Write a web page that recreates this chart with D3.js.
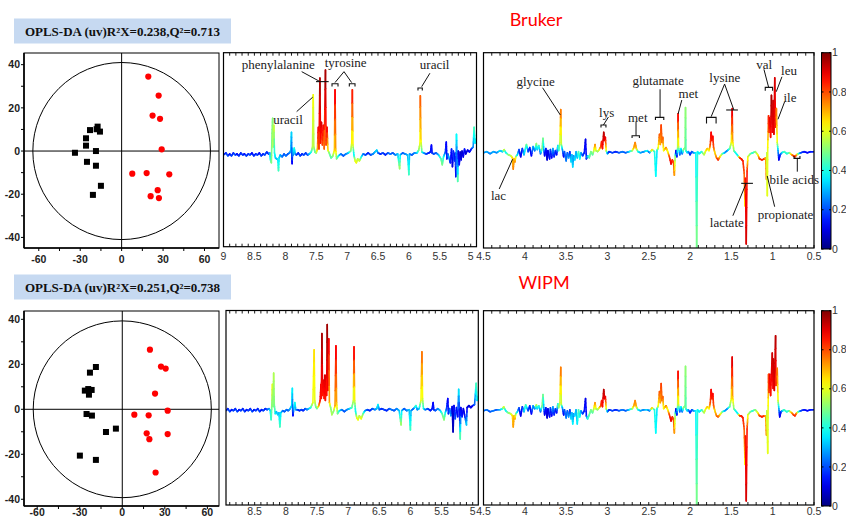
<!DOCTYPE html>
<html><head><meta charset="utf-8">
<script src="https://cdn.jsdelivr.net/npm/d3@7"></script>
<style>html,body{margin:0;padding:0;background:#fff;overflow:hidden}</style>
</head><body>
<svg id="c" width="846" height="518" xmlns="http://www.w3.org/2000/svg"></svg>
<script>
// ---------------- DATA ----------------
const TITLES = ["Bruker", "WIPM"];
const MODEL_LABELS = ["OPLS-DA (uv)R\u00B2X=0.238,Q\u00B2=0.713", "OPLS-DA (uv)R\u00B2X=0.251,Q\u00B2=0.738"];

// score plots [t1, to1]
const BRUKER_CTRL = [[-22.9,9.7],[-17.4,11.3],[-18.1,10.1],[-15.7,9.0],[-25.8,5.9],[-25.8,2.5],[-33.8,-0.8],[-18.6,0],[-25.1,-5.0],[-18.6,-6.8],[-15.0,-16.1],[-20.8,-20.3]];
const BRUKER_CASE = [[19.3,34.5],[26.8,25.7],[22.4,16.4],[27.8,14.9],[29.0,0.8],[7.7,-10.5],[18.1,-10.2],[34.5,-10.8],[26.1,-18.1],[21.0,-20.9],[27.0,-21.8]];
const WIPM_CTRL = [[-18.6,18.8],[-22.8,16.3],[-26.4,8.3],[-24.0,9.0],[-21.6,8.6],[-23.5,6.5],[-25.2,-2.1],[-21.4,-2.8],[-11.5,-10.1],[-4.5,-8.6],[-29.9,-20.6],[-18.6,-22.5]];
const WIPM_CASE = [[19.5,26.5],[27.3,19.0],[30.6,18.1],[23.1,7.0],[32.0,-0.6],[8.5,-2.4],[18.6,-2.7],[17.2,-10.7],[32.0,-11.0],[19.1,-13.3],[23.5,-28.1]];
const ELLIPSE_BRUKER = [64.3, 41.0];
const ELLIPSE_WIPM = [62.8, 39.3];
const SCORE_X_TICKS = [-60,-30,0,30,60];
const SCORE_Y_TICKS = [40,20,0,-20,-40];

// loading spectra rows: [ppm, intensity, |r|]
const BRUKER_AROM = [[9.00,0.00,.20],[8.96,0.02,.15],[8.93,-0.01,.22],[8.90,0.01,.12],[8.87,-0.01,.2],[8.84,0.02,.15],[8.81,0.00,.22],[8.78,0.01,.12],[8.75,-0.01,.18],[8.72,0.02,.15],[8.69,0.00,.2],[8.66,0.01,.12],[8.63,-0.01,.2],[8.60,0.01,.15],[8.57,0.00,.22],[8.54,0.02,.12],[8.51,-0.01,.18],[8.48,0.01,.15],[8.45,0.00,.2],[8.42,0.02,.12],[8.39,-0.01,.2],[8.36,0.01,.15],[8.33,0.00,.2],[8.30,0.03,.18],[8.27,0.01,.15],[8.25,0.02,.3],[8.24,-0.05,.4],[8.225,-0.08,.5],[8.215,0.22,.5],[8.205,0.37,.5],[8.195,0.08,.55],[8.185,0.30,.58],[8.175,0.02,.4],[8.16,-0.03,.35],[8.14,-0.04,.3],[8.12,-0.05,.35],[8.11,-0.16,.45],[8.10,-0.03,.35],[8.08,0.00,.3],[8.05,-0.02,.25],[8.02,0.01,.2],[7.99,-0.01,.25],[7.96,0.01,.2],[7.93,0.02,.25],[7.91,0.05,.3],[7.90,0.23,.35],[7.895,0.02,.2],[7.89,-0.09,.1],[7.88,0.06,.3],[7.87,0.00,.25],[7.855,0.07,.4],[7.84,0.01,.3],[7.82,0.00,.2],[7.79,0.02,.15],[7.76,-0.01,.2],[7.73,0.01,.15],[7.70,0.00,.2],[7.67,0.02,.18],[7.64,0.00,.2],[7.61,0.01,.3],[7.58,0.03,.4],[7.56,0.08,.55],[7.548,0.61,.62],[7.538,0.08,.55],[7.52,0.03,.45],[7.50,0.02,.5],[7.48,0.06,.7],[7.465,0.28,.9],[7.455,0.06,.8],[7.44,0.78,.97],[7.43,0.12,.85],[7.415,0.33,.92],[7.40,0.10,.8],[7.385,0.30,.9],[7.37,0.06,.75],[7.35,0.86,.98],[7.34,0.10,.8],[7.325,0.28,.9],[7.31,0.05,.65],[7.29,0.02,.5],[7.26,-0.03,.45],[7.23,-0.01,.5],[7.205,0.05,.65],[7.195,0.66,.9],[7.185,0.06,.7],[7.17,-0.04,.5],[7.14,-0.01,.4],[7.10,0.01,.25],[7.06,-0.01,.2],[7.02,0.01,.25],[6.98,0.02,.3],[6.94,0.04,.5],[6.925,0.12,.6],[6.915,0.66,.88],[6.905,0.10,.6],[6.89,0.00,.35],[6.87,-0.06,.6],[6.85,-0.08,.62],[6.83,-0.04,.55],[6.80,-0.06,.6],[6.77,-0.02,.4],[6.74,0.01,.25],[6.70,0.00,.2],[6.66,0.02,.15],[6.62,0.00,.2],[6.58,0.01,.25],[6.55,0.03,.3],[6.52,0.05,.35],[6.50,0.02,.25],[6.46,0.01,.15],[6.42,0.02,.2],[6.38,0.00,.15],[6.34,0.02,.2],[6.30,0.01,.25],[6.26,0.02,.2],[6.22,0.00,.25],[6.18,0.01,.3],[6.15,-0.14,.55],[6.14,0.00,.35],[6.10,0.02,.2],[6.06,0.01,.25],[6.02,0.00,.3],[6.00,-0.20,.45],[5.99,0.01,.3],[5.95,0.00,.2],[5.91,0.02,.25],[5.87,0.02,.3],[5.84,0.05,.5],[5.82,0.12,.6],[5.815,0.60,.8],[5.805,0.15,.65],[5.79,0.03,.45],[5.76,0.02,.3],[5.72,0.01,.2],[5.68,0.02,.15],[5.65,0.03,.15],[5.635,0.10,.12],[5.625,0.02,.15],[5.60,0.01,.2],[5.56,0.02,.2],[5.52,0.00,.3],[5.48,-0.04,.45],[5.46,-0.10,.5],[5.44,-0.02,.4],[5.41,0.03,.2],[5.395,0.13,.12],[5.385,-0.04,.15],[5.37,0.01,.2],[5.35,-0.03,.3],[5.33,-0.08,.15],[5.31,0.06,.15],[5.295,-0.12,.08],[5.28,0.04,.15],[5.265,-0.06,.2],[5.25,0.02,.12],[5.24,-0.22,.1],[5.23,0.21,.4],[5.22,-0.05,.2],[5.21,-0.27,.5],[5.20,0.04,.1],[5.185,-0.10,.15],[5.17,0.03,.08],[5.155,-0.05,.1],[5.14,0.04,.08],[5.12,-0.02,.1],[5.10,0.06,.15],[5.08,0.01,.08],[5.05,0.05,.1],[5.02,0.03,.12],[4.99,0.06,.15],[4.96,0.08,.25],[4.945,0.28,.45],[4.93,0.12,.35],[4.91,0.16,.4],[4.906,0.12,.35]];

const BRUKER_ALIPH = [[4.50,0.00,.25],[4.46,0.01,.3],[4.42,-0.01,.25],[4.38,0.01,.3],[4.34,0.00,.25],[4.30,0.02,.35],[4.27,0.01,.3],[4.25,0.03,.6],[4.23,0.00,.35],[4.20,-0.02,.5],[4.17,-0.03,.55],[4.15,-0.05,.65],[4.14,-0.16,.75],[4.13,-0.06,.7],[4.12,-0.09,.75],[4.11,-0.04,.6],[4.09,-0.02,.35],[4.07,0.03,.2],[4.05,-0.04,.1],[4.03,0.04,.15],[4.01,-0.02,.3],[3.99,0.05,.4],[3.98,0.08,.5],[3.96,0.01,.2],[3.94,0.05,.15],[3.92,-0.03,.1],[3.90,0.06,.3],[3.88,0.02,.2],[3.86,0.09,.55],[3.85,0.03,.3],[3.83,0.07,.45],[3.81,-0.01,.2],[3.79,0.04,.5],[3.78,0.14,.5],[3.77,0.03,.3],[3.76,-0.03,.1],[3.745,0.04,.15],[3.73,-0.07,.08],[3.72,0.02,.1],[3.70,-0.06,.12],[3.69,0.03,.2],[3.675,-0.05,.1],[3.66,0.04,.3],[3.645,-0.04,.15],[3.63,0.02,.2],[3.615,-0.02,.1],[3.60,0.07,.35],[3.59,0.02,.4],[3.575,0.10,.55],[3.565,0.42,.78],[3.558,0.08,.55],[3.545,0.03,.3],[3.53,-0.04,.1],[3.52,0.01,.2],[3.50,-0.08,.25],[3.485,0.00,.2],[3.47,-0.05,.3],[3.455,0.01,.15],[3.44,-0.09,.35],[3.43,-0.02,.3],[3.42,-0.14,.35],[3.41,-0.03,.25],[3.395,-0.07,.35],[3.38,0.01,.3],[3.365,-0.05,.3],[3.35,0.01,.45],[3.335,-0.06,.4],[3.32,0.00,.3],[3.30,-0.03,.2],[3.28,0.00,.15],[3.265,0.13,.1],[3.255,-0.06,.15],[3.24,-0.03,.3],[3.22,-0.05,.45],[3.20,0.01,.5],[3.18,-0.02,.45],[3.165,0.02,.55],[3.15,0.08,.75],[3.14,0.02,.6],[3.12,0.01,.5],[3.10,0.03,.6],[3.08,0.06,.8],[3.07,0.11,.85],[3.06,0.04,.85],[3.045,0.20,.95],[3.035,0.12,.9],[3.025,0.15,.92],[3.015,0.02,.6],[3.00,-0.01,.3],[2.98,0.01,.15],[2.94,0.00,.2],[2.90,0.01,.15],[2.86,0.00,.2],[2.82,0.01,.25],[2.78,0.00,.2],[2.74,0.01,.3],[2.70,0.02,.5],[2.68,0.05,.7],[2.665,0.10,.75],[2.65,0.04,.7],[2.63,0.01,.4],[2.60,0.00,.3],[2.56,0.01,.25],[2.52,0.02,.4],[2.49,0.00,.2],[2.46,0.03,.7],[2.43,0.01,.4],[2.415,-0.23,.38],[2.40,0.02,.35],[2.385,0.05,.6],[2.37,0.18,.8],[2.36,0.08,.7],[2.35,0.27,.82],[2.34,0.10,.75],[2.33,0.15,.8],[2.32,0.02,.6],[2.30,0.04,.7],[2.29,0.05,.75],[2.27,0.01,.6],[2.25,-0.04,.8],[2.23,-0.11,.9],[2.215,-0.07,.85],[2.20,-0.10,.8],[2.19,-0.22,.75],[2.18,-0.03,.5],[2.17,0.02,.1],[2.16,-0.04,.1],[2.15,0.05,.5],[2.145,0.38,.9],[2.14,0.06,.6],[2.125,-0.02,.2],[2.11,0.04,.4],[2.095,-0.01,.2],[2.08,0.03,.5],[2.06,0.05,.5],[2.055,0.44,.52],[2.05,0.02,.45],[2.035,0.00,.35],[2.02,0.01,.3],[2.00,-0.02,.15],[1.98,0.01,.2],[1.96,0.00,.25],[1.93,0.00,.35],[1.92,-0.95,.5],[1.91,0.01,.4],[1.89,-0.01,.35],[1.86,0.01,.4],[1.83,-0.02,.55],[1.81,0.02,.6],[1.79,0.04,.7],[1.77,0.02,.6],[1.755,0.08,.8],[1.745,0.20,.88],[1.735,0.12,.85],[1.725,0.16,.88],[1.715,0.05,.8],[1.70,0.00,.65],[1.68,-0.05,.75],[1.66,-0.07,.85],[1.64,-0.04,.7],[1.61,-0.01,.5],[1.58,0.00,.3],[1.55,0.02,.25],[1.52,0.04,.45],[1.50,0.10,.6],[1.49,0.43,.92],[1.485,0.12,.7],[1.47,0.02,.5],[1.45,0.00,.4],[1.42,-0.03,.35],[1.40,-0.05,.8],[1.38,-0.06,.85],[1.36,-0.08,.85],[1.345,-0.20,.8],[1.335,-0.52,.62],[1.33,-0.25,.85],[1.32,-0.89,.92],[1.31,-0.18,.85],[1.30,-0.04,.6],[1.27,-0.01,.5],[1.24,0.00,.4],[1.21,0.01,.5],[1.18,-0.02,.6],[1.16,-0.06,.8],[1.13,-0.07,.85],[1.10,-0.06,.82],[1.085,-0.05,.7],[1.075,-0.26,.75],[1.07,0.00,.55],[1.065,-0.42,.6],[1.06,0.05,.6],[1.05,0.36,.85],[1.045,0.20,.8],[1.035,0.34,.9],[1.025,0.15,.85],[1.015,0.56,.97],[1.005,0.20,.88],[0.995,0.51,.93],[0.985,0.18,.9],[0.975,0.73,.92],[0.965,0.25,.85],[0.955,0.43,.78],[0.945,0.10,.6],[0.935,0.02,.3],[0.925,-0.07,.1],[0.91,-0.02,.15],[0.89,0.00,.3],[0.86,0.01,.45],[0.83,-0.01,.4],[0.80,0.00,.45],[0.77,-0.02,.7],[0.75,-0.03,.8],[0.73,-0.04,.85],[0.71,-0.02,.75],[0.69,-0.01,.5],[0.66,0.00,.2],[0.62,0.01,.15],[0.58,0.00,.12],[0.54,0.01,.15],[0.50,0.01,.15]];

const WIPM_AROM = [[8.96,0.00,.2],[8.93,0.02,.15],[8.90,-0.01,.22],[8.87,0.01,.12],[8.84,0.00,.2],[8.81,0.02,.15],[8.78,-0.01,.22],[8.75,0.01,.12],[8.72,0.00,.2],[8.69,0.02,.15],[8.66,-0.01,.2],[8.63,0.01,.12],[8.60,0.00,.2],[8.57,0.02,.15],[8.54,-0.01,.22],[8.51,0.01,.12],[8.48,0.00,.2],[8.45,0.02,.15],[8.42,-0.01,.2],[8.39,0.01,.12],[8.36,0.00,.2],[8.33,0.02,.15],[8.30,0.01,.2],[8.27,0.02,.25],[8.25,0.00,.35],[8.235,-0.09,.42],[8.225,0.05,.5],[8.215,0.26,.62],[8.205,0.04,.5],[8.195,0.37,.55],[8.185,0.06,.5],[8.17,-0.03,.4],[8.15,-0.01,.3],[8.13,-0.04,.35],[8.11,-0.02,.3],[8.095,-0.16,.45],[8.08,-0.02,.35],[8.05,0.00,.25],[8.02,-0.01,.2],[7.99,0.01,.25],[7.96,0.00,.2],[7.93,0.02,.3],[7.905,0.05,.35],[7.895,0.22,.38],[7.89,0.00,.2],[7.885,-0.05,.1],[7.87,0.03,.3],[7.855,0.08,.4],[7.84,0.01,.3],[7.81,0.01,.2],[7.78,0.00,.15],[7.75,0.01,.2],[7.72,0.00,.15],[7.69,0.02,.2],[7.66,0.01,.25],[7.63,0.02,.3],[7.60,0.03,.4],[7.565,0.08,.6],[7.545,0.60,.66],[7.535,0.10,.6],[7.52,0.04,.5],[7.50,0.02,.45],[7.47,0.05,.7],[7.45,0.10,.85],[7.435,0.26,.9],[7.43,0.12,.85],[7.42,0.76,.97],[7.41,0.15,.85],[7.395,0.30,.9],[7.385,0.12,.85],[7.375,0.35,.92],[7.365,0.10,.85],[7.355,0.35,.92],[7.345,0.15,.85],[7.335,0.85,.98],[7.325,0.20,.88],[7.31,0.71,.9],[7.30,0.08,.7],[7.28,0.03,.5],[7.26,-0.04,.55],[7.23,0.00,.5],[7.21,0.05,.7],[7.195,0.64,.9],[7.185,0.08,.7],[7.17,-0.03,.5],[7.14,0.00,.4],[7.10,0.01,.25],[7.06,-0.01,.2],[7.02,0.01,.25],[6.98,0.02,.3],[6.94,0.03,.45],[6.915,0.10,.55],[6.905,0.63,.9],[6.895,0.10,.6],[6.88,-0.01,.35],[6.86,-0.07,.6],[6.84,-0.09,.62],[6.82,-0.05,.55],[6.79,-0.08,.62],[6.76,-0.03,.5],[6.73,0.00,.3],[6.69,0.01,.2],[6.65,0.00,.15],[6.61,0.02,.2],[6.57,0.01,.25],[6.54,0.02,.3],[6.52,0.06,.38],[6.50,0.01,.25],[6.46,0.02,.15],[6.42,0.01,.2],[6.38,0.00,.15],[6.34,0.02,.2],[6.30,0.01,.25],[6.26,0.00,.2],[6.22,0.02,.25],[6.18,0.00,.3],[6.15,-0.14,.55],[6.14,0.00,.35],[6.10,0.02,.2],[6.06,0.00,.25],[6.02,0.01,.3],[6.00,-0.19,.45],[5.99,0.00,.3],[5.95,0.02,.2],[5.91,0.05,.45],[5.89,0.01,.25],[5.86,0.02,.3],[5.83,0.10,.6],[5.815,0.58,.78],[5.805,0.12,.6],[5.79,0.02,.4],[5.76,0.01,.25],[5.72,0.02,.2],[5.68,0.00,.15],[5.65,0.02,.15],[5.635,0.08,.12],[5.625,0.01,.15],[5.60,0.00,.2],[5.56,0.02,.25],[5.52,0.00,.3],[5.49,-0.03,.45],[5.46,-0.09,.52],[5.44,-0.02,.4],[5.42,0.02,.2],[5.40,0.12,.12],[5.39,-0.03,.15],[5.37,0.02,.2],[5.35,-0.05,.3],[5.33,0.04,.1],[5.315,-0.21,.05],[5.30,0.05,.1],[5.28,-0.08,.2],[5.26,0.03,.15],[5.24,-0.06,.1],[5.225,0.21,.38],[5.21,-0.05,.1],[5.20,-0.28,.5],[5.19,0.03,.1],[5.17,-0.06,.15],[5.15,0.02,.1],[5.13,-0.04,.1],[5.10,-0.14,.35],[5.09,0.03,.1],[5.06,0.05,.08],[5.03,0.03,.1],[5.00,0.05,.12],[4.97,0.06,.2],[4.945,0.27,.45],[4.93,0.10,.35],[4.91,0.14,.4]];

const WIPM_ALIPH = [[4.50,0.00,.2],[4.46,0.01,.25],[4.42,-0.01,.2],[4.38,0.00,.25],[4.34,0.01,.2],[4.30,0.01,.3],[4.27,0.02,.4],[4.255,0.04,.62],[4.23,0.00,.35],[4.20,-0.02,.5],[4.17,-0.03,.55],[4.15,-0.05,.65],[4.14,-0.16,.72],[4.13,-0.05,.7],[4.12,-0.08,.72],[4.11,-0.03,.55],[4.09,-0.01,.35],[4.07,0.03,.2],[4.05,-0.05,.1],[4.03,0.04,.15],[4.01,-0.01,.3],[3.99,0.06,.45],[3.98,0.04,.4],[3.96,0.00,.2],[3.94,0.05,.15],[3.92,-0.03,.1],[3.90,0.05,.3],[3.88,0.02,.2],[3.86,0.06,.6],[3.85,0.02,.3],[3.83,0.05,.45],[3.81,-0.01,.2],[3.79,0.05,.5],[3.78,0.16,.5],[3.77,0.03,.3],[3.76,-0.04,.1],[3.745,0.03,.15],[3.73,-0.07,.08],[3.72,0.02,.1],[3.70,-0.06,.12],[3.69,0.03,.2],[3.675,-0.05,.1],[3.66,0.04,.3],[3.645,-0.04,.15],[3.63,0.02,.2],[3.615,-0.02,.1],[3.60,0.07,.4],[3.59,0.03,.5],[3.575,0.08,.55],[3.565,0.43,.78],[3.558,0.06,.55],[3.545,0.03,.3],[3.53,-0.04,.1],[3.52,0.01,.2],[3.50,-0.07,.25],[3.485,0.00,.2],[3.47,-0.06,.3],[3.455,0.01,.15],[3.44,-0.08,.35],[3.43,-0.02,.3],[3.42,-0.13,.38],[3.41,-0.03,.25],[3.395,-0.05,.35],[3.38,0.01,.3],[3.365,-0.13,.35],[3.35,0.01,.45],[3.335,-0.06,.4],[3.32,0.00,.3],[3.30,-0.03,.2],[3.28,0.00,.15],[3.265,0.12,.1],[3.255,-0.05,.15],[3.24,-0.08,.4],[3.22,-0.04,.45],[3.20,0.01,.5],[3.18,-0.02,.45],[3.165,0.02,.55],[3.15,0.08,.75],[3.14,0.02,.6],[3.12,0.01,.5],[3.10,0.03,.6],[3.08,0.05,.8],[3.07,0.10,.85],[3.06,0.04,.85],[3.045,0.21,.95],[3.035,0.12,.9],[3.025,0.14,.92],[3.015,0.02,.6],[3.00,-0.01,.3],[2.98,0.01,.15],[2.94,0.00,.2],[2.90,0.01,.15],[2.86,0.00,.2],[2.82,0.01,.25],[2.78,0.00,.2],[2.74,0.01,.3],[2.70,0.02,.5],[2.68,0.05,.7],[2.665,0.10,.75],[2.65,0.04,.7],[2.63,0.01,.4],[2.60,0.00,.3],[2.56,0.01,.25],[2.52,0.01,.35],[2.49,0.00,.2],[2.46,0.03,.72],[2.43,0.01,.4],[2.415,-0.22,.38],[2.40,0.02,.35],[2.385,0.05,.6],[2.37,0.19,.8],[2.36,0.08,.7],[2.35,0.27,.82],[2.34,0.10,.75],[2.33,0.14,.8],[2.32,0.02,.6],[2.30,0.04,.7],[2.29,0.05,.75],[2.27,0.01,.6],[2.25,-0.04,.8],[2.23,-0.10,.9],[2.215,-0.06,.85],[2.20,-0.09,.8],[2.19,-0.22,.75],[2.18,-0.03,.5],[2.17,0.02,.1],[2.16,-0.04,.1],[2.15,0.05,.5],[2.145,0.39,.9],[2.14,0.06,.6],[2.125,-0.01,.2],[2.11,0.04,.4],[2.095,-0.01,.2],[2.08,0.03,.5],[2.06,0.05,.5],[2.055,0.44,.52],[2.05,0.02,.45],[2.035,0.00,.35],[2.02,0.01,.3],[2.00,-0.02,.15],[1.98,0.01,.2],[1.96,0.00,.25],[1.93,0.00,.35],[1.92,-0.96,.5],[1.91,0.01,.4],[1.89,-0.01,.35],[1.86,0.01,.4],[1.83,-0.02,.55],[1.81,0.02,.6],[1.79,0.04,.7],[1.77,0.02,.6],[1.755,0.08,.8],[1.745,0.21,.88],[1.735,0.12,.85],[1.725,0.17,.88],[1.715,0.05,.8],[1.70,0.00,.65],[1.68,-0.05,.75],[1.66,-0.06,.8],[1.64,-0.04,.7],[1.61,-0.01,.5],[1.58,0.00,.3],[1.55,0.02,.25],[1.52,0.04,.45],[1.50,0.12,.62],[1.49,0.53,.93],[1.485,0.14,.7],[1.47,0.02,.5],[1.45,0.00,.4],[1.42,-0.03,.35],[1.40,-0.05,.8],[1.38,-0.05,.85],[1.36,-0.07,.85],[1.345,-0.18,.8],[1.335,-0.53,.6],[1.33,-0.25,.85],[1.32,-0.89,.92],[1.31,-0.18,.85],[1.30,-0.04,.6],[1.27,-0.01,.5],[1.24,0.00,.4],[1.21,0.01,.5],[1.18,-0.02,.6],[1.16,-0.05,.8],[1.13,-0.06,.85],[1.10,-0.05,.82],[1.085,-0.05,.7],[1.075,-0.24,.75],[1.07,0.00,.55],[1.06,-0.42,.6],[1.055,0.05,.6],[1.05,0.36,.82],[1.045,0.18,.8],[1.035,0.36,.9],[1.025,0.15,.85],[1.005,0.57,.93],[0.995,0.22,.88],[0.99,0.51,.93],[0.98,0.20,.9],[0.965,0.74,.95],[0.96,0.25,.85],[0.945,0.42,.78],[0.935,0.10,.6],[0.925,0.02,.3],[0.915,-0.06,.1],[0.90,-0.01,.15],[0.88,0.00,.3],[0.86,0.01,.45],[0.83,-0.01,.4],[0.80,0.00,.45],[0.77,-0.02,.7],[0.75,-0.04,.8],[0.73,-0.05,.85],[0.71,-0.02,.75],[0.69,-0.01,.5],[0.66,0.00,.2],[0.62,0.01,.15],[0.58,0.00,.12],[0.54,0.01,.15],[0.50,0.01,.15]];

// annotations (Bruker only): [text, ppm, intensity]
const AROM_LABELS = [["phenylalanine",8.113,0.912],["tyrosine",7.023,0.935],["uracil",5.583,0.912],["uracil",7.956,0.362]];
const AROM_LEADERS = [[7.735,0.844,7.438,0.743],[7.05,0.844,7.196,0.733],[7.05,0.844,6.926,0.733],[5.66,0.828,5.793,0.692],[7.816,0.439,7.557,0.585]];
const AROM_BARS = [[7.503,7.298,0.743]];
const AROM_BRACKETS = [[7.244,7.147,0.722,-0.028],[6.964,6.872,0.722,-0.028],[5.853,5.783,0.679,-0.025]];
const ALIPH_LABELS = [["glycine",3.870,0.693],["lys",3.009,0.39],["met",2.633,0.341],["glutamate",2.387,0.702],["met",2.021,0.58],["lysine",1.579,0.736],["val",1.102,0.865],["leu",0.803,0.80],["ile",0.791,0.54],["bile acids",0.739,-0.26],["lac",4.318,-0.42],["lactate",1.555,-0.683],["propionate",0.845,-0.598]];
const ALIPH_LEADERS = [[3.785,0.634,3.570,0.368],[2.988,0.348,3.049,0.27],[2.654,0.30,2.654,0.166],[2.363,0.619,2.363,0.345],[2.1,0.514,2.145,0.378],[1.582,0.67,1.745,0.351],[1.582,0.67,1.470,0.417],[1.106,0.814,1.049,0.638],[0.888,0.741,0.957,0.595],[0.855,0.498,0.936,0.326],[0.702,-0.055,0.702,-0.185],[4.31,-0.354,4.148,-0.064],[1.482,-0.615,1.321,-0.299],[0.976,-0.527,1.066,-0.227]];
const ALIPH_BARS = [[1.563,1.421,0.417],[1.381,1.239,-0.299]];
const ALIPH_BRACKETS = [[3.078,3.018,0.27,-0.024],[2.702,2.613,0.166,-0.022],[2.419,2.318,0.345,-0.026],[1.801,1.685,0.345,-0.059],[1.090,1.001,0.638,-0.033],[0.742,0.67,-0.055,0.022]];

const AROM_TICKS = [9,8.5,8,7.5,7,6.5,6,5.5,5];
const ALIPH_TICKS = [4.5,4,3.5,3,2.5,2,1.5,1,0.5];
const CBAR_TICKS = [0,0.2,0.4,0.6,0.8,1];

// ---------------- DRAW ----------------
const svg = d3.select("#c");
const SANS = "'Liberation Sans', Arial, sans-serif";
const SERIF = "'Liberation Serif', 'Times New Roman', serif";

function jet(t){
  t = Math.max(0, Math.min(1, t));
  const c = v => Math.round(255*Math.max(0, Math.min(1, v)));
  return `rgb(${c(1.5-Math.abs(4*t-3))},${c(1.5-Math.abs(4*t-2))},${c(1.5-Math.abs(4*t-1))})`;
}

// titles
svg.append("text").attr("x",536).attr("y",20).attr("dy","0.35em").attr("text-anchor","middle")
  .attr("font-family","Lato, 'Open Sans', sans-serif").attr("font-size",18).attr("fill","#ff0000").text(TITLES[0]);
svg.append("text").attr("x",544).attr("y",283).attr("dy","0.35em").attr("text-anchor","middle")
  .attr("font-family","Lato, 'Open Sans', sans-serif").attr("font-size",18).attr("fill","#ff0000").text(TITLES[1]);

function modelBox(y0, label){
  svg.append("rect").attr("x",14).attr("y",y0).attr("width",217).attr("height",25).attr("fill","#c6d9f1");
  svg.append("text").attr("x",122.5).attr("y",y0+12.5).attr("dy","0.35em").attr("text-anchor","middle")
    .attr("font-family",SERIF).attr("font-weight","bold").attr("font-size",13).attr("fill","#111").text(label);
}
modelBox(18.5, MODEL_LABELS[0]);
modelBox(274.5, MODEL_LABELS[1]);

function scorePlot(box, xd, yd, ctrl, cas, ell, labelY){
  const x = d3.scaleLinear().domain(xd).range([box.x0, box.x1]);
  const y = d3.scaleLinear().domain(yd).range([box.y1, box.y0]);
  const g = svg.append("g");
  g.append("rect").attr("x",box.x0).attr("y",box.y0).attr("width",box.x1-box.x0).attr("height",box.y1-box.y0)
    .attr("fill","none").attr("stroke","#000").attr("stroke-width",1);
  g.append("line").attr("x1",box.x0).attr("x2",box.x0).attr("y1",box.y0).attr("y2",box.y1).attr("stroke","#000").attr("stroke-width",1.6);
  g.append("line").attr("x1",box.x0).attr("x2",box.x1).attr("y1",box.y1).attr("y2",box.y1).attr("stroke","#000").attr("stroke-width",1.6);
  g.append("line").attr("x1",x(0)).attr("x2",x(0)).attr("y1",box.y0).attr("y2",box.y1).attr("stroke","#000").attr("stroke-width",1);
  g.append("line").attr("x1",box.x0).attr("x2",box.x1).attr("y1",y(0)).attr("y2",y(0)).attr("stroke","#000").attr("stroke-width",1);
  g.append("ellipse").attr("cx",x(0)).attr("cy",y(0)).attr("rx",x(ell[0])-x(0)).attr("ry",y(0)-y(ell[1]))
    .attr("fill","none").attr("stroke","#000").attr("stroke-width",1);
  d3.range(-40,41,10).forEach(v=>{ g.append("line").attr("x1",box.x0-3).attr("x2",box.x0).attr("y1",y(v)).attr("y2",y(v)).attr("stroke","#000"); });
  d3.range(-60,61,15).forEach(v=>{ g.append("line").attr("x1",x(v)).attr("x2",x(v)).attr("y1",box.y1).attr("y2",box.y1+3).attr("stroke","#000"); });
  SCORE_Y_TICKS.forEach(v=>{
    g.append("text").attr("x",box.x0-4).attr("y",y(v)).attr("dy","0.35em").attr("text-anchor","end")
      .attr("font-family",SANS).attr("font-weight","bold").attr("font-size",10.5).attr("fill","#222").text(v);
  });
  SCORE_X_TICKS.forEach(v=>{
    g.append("text").attr("x",x(v)).attr("y",labelY).attr("dy","0.35em").attr("text-anchor","middle")
      .attr("font-family",SANS).attr("font-weight","bold").attr("font-size",10.5).attr("fill","#222").text(v);
  });
  const s = 6;
  g.selectAll(".sq").data(ctrl).enter().append("rect")
    .attr("x",d=>x(d[0])-s/2).attr("y",d=>y(d[1])-s/2).attr("width",s).attr("height",s).attr("fill","#000");
  g.selectAll(".ci").data(cas).enter().append("circle")
    .attr("cx",d=>x(d[0])).attr("cy",d=>y(d[1])).attr("r",3.1).attr("fill","#ff0000");
}
scorePlot({x0:24,x1:219,y0:53,y1:248}, [-70.7,70.5], [-44.9,45.4], BRUKER_CTRL, BRUKER_CASE, ELLIPSE_BRUKER, 259.5);
scorePlot({x0:24,x1:219,y0:311,y1:506}, [-69.3,68.2], [-43.0,43.7], WIPM_CTRL, WIPM_CASE, ELLIPSE_WIPM, 512);

let clipId = 0;
function spectrum(box, xd, yd, data, ticks, labelY, ann){
  const x = d3.scaleLinear().domain(xd).range([box.x0, box.x1]);
  const y = d3.scaleLinear().domain(yd).range([box.y1, box.y0]);
  const id = "clip"+(clipId++);
  svg.append("clipPath").attr("id",id).append("rect").attr("x",box.x0).attr("y",box.y0).attr("width",box.x1-box.x0).attr("height",box.y1-box.y0);
  const g = svg.append("g").attr("clip-path",`url(#${id})`);
  const N = 4;
  for(let i=0;i<data.length-1;i++){
    const a=data[i], b=data[i+1];
    for(let k=0;k<N;k++){
      const t0=k/N, t1=(k+1)/N, tm=(t0+t1)/2;
      g.append("line")
        .attr("x1",x(a[0]+(b[0]-a[0])*t0)).attr("y1",y(a[1]+(b[1]-a[1])*t0))
        .attr("x2",x(a[0]+(b[0]-a[0])*t1)).attr("y2",y(a[1]+(b[1]-a[1])*t1))
        .attr("stroke",jet(a[2]+(b[2]-a[2])*tm)).attr("stroke-width",1.6).attr("stroke-linecap","round");
    }
  }
  const f = svg.append("g");
  f.append("rect").attr("x",box.x0).attr("y",box.y0).attr("width",box.x1-box.x0).attr("height",box.y1-box.y0)
    .attr("fill","none").attr("stroke","#000").attr("stroke-width",1.2);
  const lo = Math.min(xd[0],xd[1]), hi = Math.max(xd[0],xd[1]);
  for(let v=Math.ceil(lo*10); v<=Math.floor(hi*10); v++){
    const px = x(v/10);
    f.append("line").attr("x1",px).attr("x2",px).attr("y1",box.y1).attr("y2",box.y1-3).attr("stroke","#000").attr("stroke-width",0.9);
    f.append("line").attr("x1",px).attr("x2",px).attr("y1",box.y0).attr("y2",box.y0+3).attr("stroke","#000").attr("stroke-width",0.9);
  }
  ticks.forEach(v=>{
    f.append("text").attr("x",x(v)).attr("y",labelY).attr("dy","0.35em").attr("text-anchor","middle")
      .attr("font-family",SANS).attr("font-size",10.5).attr("fill","#333").text(v);
  });
  if(ann){
    const a = svg.append("g");
    ann.labels.forEach(d=>{
      a.append("text").attr("x",x(d[1])).attr("y",y(d[2])).attr("dy","0.35em").attr("text-anchor","middle")
        .attr("font-family",SERIF).attr("font-size",13).attr("fill","#222").text(d[0]);
    });
    ann.leaders.forEach(d=>{
      a.append("line").attr("x1",x(d[0])).attr("y1",y(d[1])).attr("x2",x(d[2])).attr("y2",y(d[3])).attr("stroke","#111").attr("stroke-width",1);
    });
    ann.bars.forEach(d=>{
      a.append("line").attr("x1",x(d[0])).attr("y1",y(d[2])).attr("x2",x(d[1])).attr("y2",y(d[2])).attr("stroke","#111").attr("stroke-width",1.1);
    });
    ann.brackets.forEach(d=>{
      const p = d3.path();
      p.moveTo(x(d[0]), y(d[2]+d[3])); p.lineTo(x(d[0]), y(d[2])); p.lineTo(x(d[1]), y(d[2])); p.lineTo(x(d[1]), y(d[2]+d[3]));
      a.append("path").attr("d",p.toString()).attr("fill","none").attr("stroke","#111").attr("stroke-width",1.1);
    });
  }
}
spectrum({x0:223.5,x1:476.5,y0:52.7,y1:246.7}, [9,4.906], [-0.93,1.036], BRUKER_AROM, AROM_TICKS, 256,
  {labels:AROM_LABELS, leaders:AROM_LEADERS, bars:AROM_BARS, brackets:AROM_BRACKETS});
spectrum({x0:483.5,x1:814,y0:52.7,y1:248}, [4.5,0.5], [-0.93,0.976], BRUKER_ALIPH, ALIPH_TICKS, 256,
  {labels:ALIPH_LABELS, leaders:ALIPH_LEADERS, bars:ALIPH_BARS, brackets:ALIPH_BRACKETS});
spectrum({x0:226,x1:478.3,y0:310.5,y1:505}, [8.96,4.91], [-0.93,0.988], WIPM_AROM, AROM_TICKS.slice(1), 511.5, null);
spectrum({x0:483.5,x1:814,y0:310.7,y1:505}, [4.5,0.5], [-0.93,0.988], WIPM_ALIPH, ALIPH_TICKS, 511.5, null);

// colour bars
const defs = svg.append("defs");
const grad = defs.append("linearGradient").attr("id","jetgrad").attr("x1",0).attr("y1",1).attr("x2",0).attr("y2",0);
d3.range(0,1.0001,0.05).forEach(t=>grad.append("stop").attr("offset",t).attr("stop-color",jet(t)));
function colorbar(box){
  const y = d3.scaleLinear().domain([0,1]).range([box.y1, box.y0]);
  svg.append("rect").attr("x",box.x0).attr("y",box.y0).attr("width",box.x1-box.x0).attr("height",box.y1-box.y0)
    .attr("fill","url(#jetgrad)").attr("stroke","#000").attr("stroke-width",1);
  CBAR_TICKS.forEach(v=>{
    svg.append("line").attr("x1",box.x1-2).attr("x2",box.x1).attr("y1",y(v)).attr("y2",y(v)).attr("stroke","#000");
    svg.append("line").attr("x1",box.x0).attr("x2",box.x0+2).attr("y1",y(v)).attr("y2",y(v)).attr("stroke","#000");
    svg.append("text").attr("x",box.x1+1).attr("y",y(v)).attr("dy","0.35em").attr("font-family",SANS)
      .attr("font-size",10.5).attr("fill","#333").text(v);
  });
}
colorbar({x0:821.5,x1:831,y0:52.7,y1:249});
colorbar({x0:821.5,x1:831,y0:310.7,y1:506});
</script></body></html>
